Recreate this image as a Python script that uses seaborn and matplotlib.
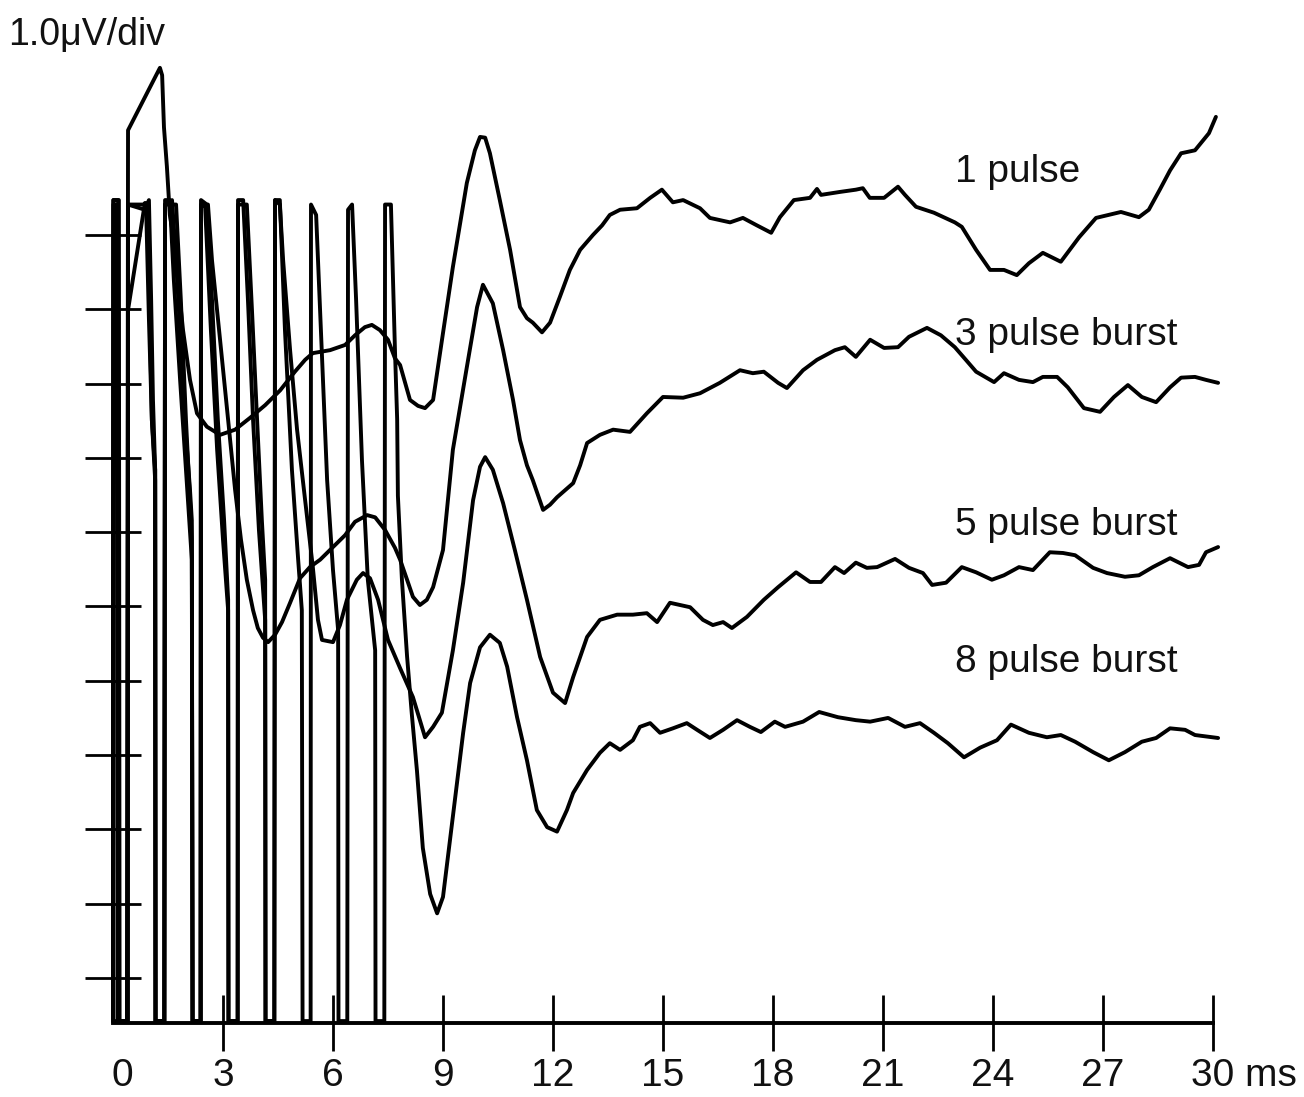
import matplotlib
matplotlib.use("Agg")
import matplotlib.pyplot as plt
import matplotlib.transforms as mtransforms
import pandas as pd
import seaborn as sns

# ---------------- data (time in ms, amplitude in µV, 1 µV per division) ----------------
x_ticks = [0, 3, 6, 9, 12, 15, 18, 21, 24, 27, 30]
x_ticklabels = ["0", "3", "6", "9", "12", "15", "18", "21", "24", "27", "30 ms"]
y_ticks = [0, 1, 2, 3, 4, 5, 6, 7, 8, 9, 10]

trace_names = ["1 pulse", "3 pulse burst", "5 pulse burst", "8 pulse burst"]
label_t = [22.96, 22.96, 22.96, 22.96]
label_v = [10.71, 8.52, 5.96, 4.12]

t_1 = [0.00, 0.38, 0.41, 1.28, 1.34, 1.39, 1.47, 1.55, 1.64, 1.77, 1.91, 2.10, 2.29, 2.56, 2.92, 3.33, 3.74, 4.15,
       4.56, 4.96, 5.24, 5.45, 5.92, 6.33, 6.60, 6.87, 7.06, 7.28, 7.50, 7.69, 7.83, 8.10, 8.32, 8.51, 8.73, 9.00,
       9.27, 9.65, 9.87, 10.01, 10.15, 10.28, 10.55, 10.83, 11.10, 11.29, 11.45, 11.70, 11.92, 12.19, 12.46, 12.74,
       13.09, 13.34, 13.55, 13.83, 14.29, 14.65, 14.97, 15.27, 15.55, 16.01, 16.28, 16.83, 17.18, 17.56, 17.95,
       18.19, 18.57, 19.01, 19.20, 19.31, 19.83, 20.26, 20.45, 20.64, 21.03, 21.41, 21.60, 21.90, 22.39, 22.96,
       23.15, 23.54, 23.92, 24.30, 24.65, 24.98, 25.36, 25.85, 26.35, 26.81, 27.49, 27.98, 28.25, 28.55, 28.83,
       29.13, 29.51, 29.89, 30.08]
v_1 = [-0.58, -0.58, 11.41, 12.25, 12.15, 11.45, 10.92, 10.27, 10.00, 9.39, 8.72, 8.05, 7.60, 7.42, 7.31, 7.38,
       7.54, 7.71, 7.91, 8.16, 8.32, 8.41, 8.45, 8.52, 8.65, 8.76, 8.79, 8.72, 8.59, 8.34, 8.25, 7.78, 7.70, 7.67,
       7.78, 8.68, 9.57, 10.70, 11.14, 11.32, 11.31, 11.10, 10.47, 9.80, 9.03, 8.88, 8.82, 8.69, 8.82, 9.17, 9.53,
       9.80, 10.00, 10.13, 10.27, 10.34, 10.36, 10.50, 10.61, 10.44, 10.47, 10.36, 10.23, 10.17, 10.23, 10.13,
       10.03, 10.24, 10.47, 10.50, 10.62, 10.54, 10.58, 10.61, 10.63, 10.50, 10.50, 10.65, 10.54, 10.38, 10.30,
       10.17, 10.11, 9.80, 9.53, 9.53, 9.46, 9.62, 9.76, 9.64, 9.97, 10.23, 10.31, 10.24, 10.34, 10.61, 10.87,
       11.10, 11.14, 11.37, 11.59]

t_3 = [0.00, 0.01, 0.11, 0.12, 0.40, 0.41, 0.87, 0.95, 1.01, 1.06, 1.15, 1.16, 1.40, 1.42, 1.61, 1.72, 1.83, 1.96,
       2.10, 2.15, 2.17, 2.39, 2.40, 2.59, 2.70, 2.92, 3.14, 3.33, 3.49, 3.65, 3.82, 3.95, 4.09, 4.23, 4.42, 4.61,
       4.83, 5.10, 5.37, 5.65, 6.00, 6.33, 6.60, 6.93, 7.15, 7.42, 7.69, 7.83, 8.02, 8.18, 8.37, 8.56, 8.73, 9.00,
       9.27, 9.65, 9.93, 10.09, 10.36, 10.64, 10.91, 11.10, 11.29, 11.45, 11.73, 11.92, 12.11, 12.55, 12.74, 12.93,
       13.28, 13.64, 14.10, 14.56, 15.00, 15.55, 16.01, 16.55, 17.10, 17.45, 17.75, 18.14, 18.38, 18.82, 19.20,
       19.69, 19.96, 20.26, 20.65, 21.03, 21.41, 21.71, 22.20, 22.58, 22.96, 23.26, 23.54, 24.03, 24.30, 24.71,
       25.09, 25.36, 25.75, 26.04, 26.48, 26.92, 27.30, 27.68, 28.06, 28.45, 28.83, 29.13, 29.51, 29.81, 30.14]
v_3 = [-0.58, 10.41, 10.41, -0.58, -0.58, 8.99, 10.43, 10.41, 8.72, 7.51, 6.84, -0.58, -0.58, 10.41, 10.47, 9.66,
       8.72, 7.51, 6.57, 6.16, -0.58, -0.58, 10.38, 10.41, 9.66, 8.59, 7.51, 6.57, 5.90, 5.36, 4.95, 4.71, 4.58,
       4.52, 4.62, 4.79, 5.05, 5.38, 5.53, 5.63, 5.80, 5.96, 6.14, 6.23, 6.20, 6.03, 5.79, 5.63, 5.36, 5.13, 5.02,
       5.09, 5.26, 5.76, 7.11, 8.22, 9.03, 9.33, 9.08, 8.45, 7.78, 7.24, 6.90, 6.70, 6.30, 6.37, 6.47, 6.66, 6.90,
       7.20, 7.31, 7.38, 7.35, 7.60, 7.82, 7.81, 7.87, 8.01, 8.18, 8.14, 8.16, 8.01, 7.94, 8.18, 8.32, 8.45, 8.49,
       8.36, 8.59, 8.48, 8.49, 8.63, 8.75, 8.65, 8.49, 8.32, 8.16, 8.02, 8.14, 8.05, 8.02, 8.09, 8.09, 7.95, 7.67,
       7.62, 7.82, 7.98, 7.82, 7.75, 7.95, 8.08, 8.09, 8.05, 8.01]

t_5 = [0.00, 0.01, 0.14, 0.15, 0.40, 0.41, 0.82, 0.90, 0.98, 1.06, 1.15, 1.16, 1.40, 1.42, 1.72, 1.85, 1.99, 2.10,
       2.15, 2.17, 2.39, 2.40, 2.51, 2.67, 2.84, 3.00, 3.14, 3.15, 3.40, 3.41, 3.65, 3.79, 3.93, 4.06, 4.15, 4.16,
       4.40, 4.42, 4.55, 4.64, 4.83, 5.02, 5.24, 5.45, 5.59, 5.70, 6.00, 6.19, 6.38, 6.65, 6.82, 7.01, 7.23, 7.50,
       7.83, 8.18, 8.37, 8.51, 8.73, 8.97, 9.27, 9.55, 9.82, 10.01, 10.15, 10.36, 10.64, 10.96, 11.29, 11.65, 12.00,
       12.33, 12.55, 12.93, 13.28, 13.75, 14.18, 14.56, 14.84, 15.19, 15.74, 16.09, 16.36, 16.64, 16.88, 17.29,
       17.75, 18.14, 18.63, 19.01, 19.31, 19.69, 19.94, 20.26, 20.56, 20.84, 21.33, 21.71, 22.09, 22.34, 22.72,
       23.15, 23.54, 23.97, 24.30, 24.71, 25.09, 25.55, 25.91, 26.24, 26.73, 27.11, 27.60, 27.98, 28.36, 28.83,
       29.32, 29.62, 29.81, 30.14]
v_5 = [-0.58, 10.47, 10.47, -0.58, -0.58, 10.41, 10.41, 10.43, 8.86, 7.51, 6.70, -0.58, -0.58, 10.41, 10.41, 9.13,
       7.51, 6.43, 5.90, -0.58, -0.58, 10.41, 10.41, 8.72, 7.11, 5.90, 4.95, -0.58, -0.58, 10.41, 10.41, 8.99, 7.51,
       6.16, 5.36, -0.58, -0.58, 10.47, 10.41, 9.66, 8.45, 7.38, 6.43, 5.53, 4.82, 4.55, 4.52, 4.75, 5.09, 5.36,
       5.45, 5.38, 5.09, 4.55, 4.17, 3.78, 3.47, 3.24, 3.38, 3.57, 4.41, 5.32, 6.43, 6.88, 7.01, 6.84, 6.39, 5.76,
       5.09, 4.32, 3.84, 3.70, 4.05, 4.59, 4.82, 4.89, 4.89, 4.91, 4.79, 5.05, 4.99, 4.82, 4.75, 4.79, 4.71, 4.86,
       5.09, 5.26, 5.46, 5.33, 5.33, 5.53, 5.45, 5.59, 5.52, 5.53, 5.64, 5.52, 5.45, 5.29, 5.32, 5.53, 5.46, 5.36,
       5.42, 5.53, 5.49, 5.73, 5.72, 5.69, 5.52, 5.45, 5.40, 5.42, 5.53, 5.65, 5.53, 5.56, 5.73, 5.80]

t_8 = [0.00, 0.01, 0.16, 0.18, 0.40, 0.41, 0.87, 0.98, 1.04, 1.09, 1.15, 1.16, 1.40, 1.42, 1.55, 1.66, 1.83, 1.99,
       2.15, 2.17, 2.39, 2.40, 2.56, 2.70, 2.86, 3.03, 3.14, 3.15, 3.40, 3.41, 3.55, 3.68, 3.82, 3.98, 4.15, 4.16,
       4.40, 4.42, 4.55, 4.69, 4.88, 5.05, 5.15, 5.17, 5.39, 5.40, 5.54, 5.67, 5.84, 6.00, 6.14, 6.15, 6.39, 6.41,
       6.52, 6.63, 6.79, 6.95, 7.15, 7.16, 7.40, 7.42, 7.58, 7.69, 7.75, 7.77, 7.88, 8.02, 8.15, 8.29, 8.45, 8.65,
       8.84, 9.00, 9.27, 9.55, 9.74, 10.01, 10.28, 10.55, 10.75, 11.02, 11.29, 11.56, 11.84, 12.11, 12.38, 12.55,
       12.93, 13.28, 13.55, 13.83, 14.18, 14.37, 14.65, 14.92, 15.27, 15.65, 15.93, 16.28, 16.64, 17.02, 17.37,
       17.67, 18.05, 18.33, 18.82, 19.26, 19.77, 20.26, 20.65, 21.14, 21.60, 22.01, 22.39, 22.77, 23.21, 23.65,
       24.11, 24.49, 24.98, 25.47, 25.85, 26.24, 26.73, 27.16, 27.60, 28.06, 28.45, 28.83, 29.24, 29.51, 30.14]
v_8 = [-0.58, 10.47, 10.47, -0.58, -0.58, 10.41, 10.34, 10.47, 9.13, 7.78, 6.84, -0.58, -0.58, 10.47, 10.47, 9.39,
       8.05, 6.84, 5.63, -0.58, -0.58, 10.47, 10.41, 9.13, 7.51, 6.16, 5.09, -0.58, -0.58, 10.47, 10.47, 9.13, 7.51,
       6.03, 4.82, -0.58, -0.58, 10.47, 10.47, 8.72, 6.84, 5.63, 4.95, -0.58, -0.58, 10.41, 10.27, 8.72, 6.70, 5.49,
       4.68, -0.58, -0.58, 10.34, 10.41, 9.13, 6.97, 5.36, 4.41, -0.58, -0.58, 10.41, 10.41, 8.45, 7.52, 6.49, 5.36,
       4.33, 3.55, 2.79, 1.75, 1.13, 0.87, 1.09, 2.17, 3.30, 3.97, 4.45, 4.62, 4.51, 4.19, 3.51, 2.93, 2.26, 2.03,
       1.97, 2.26, 2.49, 2.80, 3.03, 3.16, 3.07, 3.20, 3.38, 3.43, 3.30, 3.36, 3.43, 3.34, 3.23, 3.34, 3.47, 3.38,
       3.31, 3.45, 3.38, 3.45, 3.58, 3.51, 3.47, 3.45, 3.50, 3.38, 3.43, 3.30, 3.16, 2.97, 3.10, 3.20, 3.41, 3.30,
       3.24, 3.27, 3.18, 3.04, 2.93, 3.04, 3.18, 3.23, 3.36, 3.34, 3.27, 3.23]

# ---------------- build long table ----------------
frames = []
for name, t, v in zip(trace_names, [t_1, t_3, t_5, t_8], [v_1, v_3, v_5, v_8]):
    frames.append(pd.DataFrame({"trace": name, "time_ms": t, "uV": v}))
df = pd.concat(frames, ignore_index=True)

# ---------------- style ----------------
sns.set_theme(style="white")
plt.rcParams["font.family"] = ["Liberation Sans", "DejaVu Sans"]

W, H = 1304, 1097
fig = plt.figure(figsize=(W / 100, H / 100), dpi=100)
ax = fig.add_axes([113 / W, 74 / H, 1107.3 / W, 1023 / H])

sns.lineplot(data=df, x="time_ms", y="uV", units="trace", estimator=None, sort=False,
             color="black", linewidth=2.8, legend=False, ax=ax)
for ln in ax.lines:
    ln.set_clip_on(False)

ax.set_xlim(0, 30.2)
ax.set_ylim(-0.606, 13.163)
ax.set_xlabel("")
ax.set_ylabel("")

for s in ["top", "right", "left"]:
    ax.spines[s].set_visible(False)
ax.spines["bottom"].set_bounds(0, 30)
ax.spines["bottom"].set_linewidth(2.8)
ax.spines["bottom"].set_color("black")

ax.set_xticks(x_ticks)
ax.set_xticklabels(x_ticklabels)
ax.set_yticks(y_ticks)
ax.set_yticklabels([])
ax.tick_params(axis="both", which="major", direction="inout", length=41, width=2.0,
               color="black", bottom=True, left=True, top=False, right=False)
ax.tick_params(axis="x", labelsize=28, pad=5, labelcolor="#111111")
ax.xaxis.get_major_ticks()[0].tick1line.set_visible(False)

labels = ax.get_xticklabels()
labels[0].set_transform(labels[0].get_transform() +
                        mtransforms.ScaledTranslation(9 / 100, 0, fig.dpi_scale_trans))
labels[-1].set_horizontalalignment("left")
labels[-1].set_transform(labels[-1].get_transform() +
                         mtransforms.ScaledTranslation(-22 / 100, 0, fig.dpi_scale_trans))

for name, lt, lv in zip(trace_names, label_t, label_v):
    ax.text(lt, lv, name, fontsize=28, ha="left", va="baseline", color="#111111")

fig.text(8 / W, 1 - 45 / H, "1.0\u03bcV/div", fontsize=27, ha="left", va="baseline", color="#111111")

fig.savefig("out.png", dpi=100, facecolor="white")
